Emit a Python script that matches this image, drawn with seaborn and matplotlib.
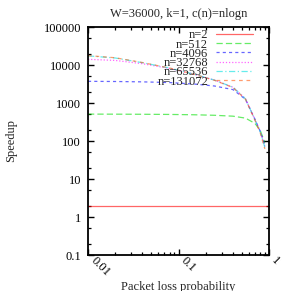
import matplotlib
matplotlib.use("Agg")
import matplotlib.pyplot as plt
import matplotlib.ticker as mticker
import seaborn as sns
import pandas as pd

# ---- data ----
p_grid = [0.01, 0.02, 0.04, 0.08, 0.15, 0.25, 0.4, 0.55, 0.7, 0.8, 0.9]
p_n2 = [0.01, 0.1, 1.0]
s_n2 = [2.0, 2.0, 2.0]
s_n512 = [510, 508, 505, 500, 490, 475, 450, 400, 290, 190, 90]
s_n4096 = [3720, 3680, 3600, 3450, 3150, 2800, 2250, 1250, 370, 180, 78]
s_n32768 = [14100, 13200, 10800, 8100, 5700, 4000, 2600, 1300, 370, 180, 72]
s_n65536 = [17400, 15300, 11500, 8300, 5700, 4000, 2600, 1280, 360, 175, 68]
s_n131072 = [17700, 15500, 11600, 8300, 5650, 3950, 2550, 1250, 350, 165, 62]

labels = ["n=2", "n=512", "n=4096", "n=32768", "n=65536", "n=131072"]
title = "W=36000, k=1, c(n)=nlogn"
xlabel = "Packet loss probability"
ylabel = "Speedup"

sns.set_theme(style="ticks")
plt.rcParams["font.family"] = ["Liberation Serif", "DejaVu Serif"]
plt.rcParams["font.size"] = 9

fig = plt.figure(figsize=(2.91, 2.91), dpi=100)
ax = fig.add_axes([88 / 291, 36 / 291, 181 / 291, 228 / 291])

series = [
    (p_n2, s_n2, "#ff0000", (None, None)),
    (p_grid, s_n512, "#00e000", (5, 2.5)),
    (p_grid, s_n4096, "#0000ff", (2.5, 2.5)),
    (p_grid, s_n32768, "#ff00ff", (1, 1.5)),
    (p_grid, s_n65536, "#00e0e0", (5, 2, 1, 2)),
    (p_grid, s_n131072, "#ff5a10", (3, 3)),
]

for (xs, ys, col, dash), lab in zip(series, labels):
    df = pd.DataFrame({"p": xs, "s": ys})
    sns.lineplot(data=df, x="p", y="s", ax=ax, color=col, linewidth=0.9,
                 alpha=0.6, label=lab, legend=False)
    l = ax.lines[-1]
    if dash[0] is not None:
        l.set_dashes(dash)

ax.set_xscale("log")
ax.set_yscale("log")
ax.set_xlim(0.01, 1)
ax.set_ylim(0.1, 100000)

ax.xaxis.set_major_locator(mticker.FixedLocator([0.01, 0.1, 1]))
ax.xaxis.set_major_formatter(mticker.FixedFormatter(["0.01", "0.1", "1"]))
ax.xaxis.set_minor_locator(mticker.LogLocator(base=10, subs=(2, 3, 4, 5, 6, 7, 8, 9)))
ax.xaxis.set_minor_formatter(mticker.NullFormatter())
yt = [0.1, 1, 10, 100, 1000, 10000, 100000]
ax.yaxis.set_major_locator(mticker.FixedLocator(yt))
ax.yaxis.set_major_formatter(mticker.FixedFormatter(["0.1", "1", "10", "100", "1000", "10000", "100000"]))
ax.yaxis.set_minor_locator(mticker.LogLocator(base=10, subs=(2, 5)))
ax.yaxis.set_minor_formatter(mticker.NullFormatter())

ax.tick_params(which="both", direction="in", top=True, right=True, colors="black",
               labelsize=9)
ax.tick_params(which="major", length=4, width=1.0, pad=5)
ax.tick_params(which="minor", length=2.2, width=0.9)
ax.tick_params(axis="x", which="major", pad=0)
for lbl in ax.get_xticklabels():
    lbl.set_rotation(-45)
    lbl.set_ha("left")
    lbl.set_va("top")
for s in ax.spines.values():
    s.set_linewidth(1.3)
    s.set_color("black")

ax.set_title(title, fontsize=9, pad=7)
ax.set_xlabel(xlabel, fontsize=9)
ax.set_ylabel(ylabel, fontsize=9)
ax.xaxis.set_label_coords(0.5, -0.112)
ax.yaxis.set_label_coords(-0.39, 0.5)

leg = ax.legend(loc="upper right", bbox_to_anchor=(0.912, 0.99), frameon=False,
                markerfirst=False, handlelength=3.0, handletextpad=0.6,
                labelspacing=-0.22, borderpad=0, borderaxespad=0, fontsize=9)
for h in leg.get_lines():
    h.set_alpha(0.6)

fig.savefig("out.png", dpi=100)
